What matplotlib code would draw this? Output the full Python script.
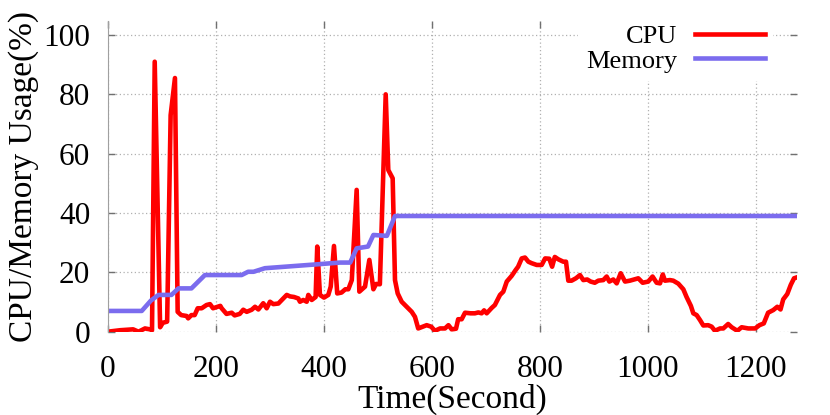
import matplotlib
matplotlib.use("Agg")
import matplotlib.pyplot as plt

# CPU usage samples (time in seconds, usage in %)
cpu_t = [0, 23, 47, 57, 69, 78, 82, 87, 97, 102, 110, 116.5, 124.5, 129.5,
         136, 146, 149, 155, 161, 166.6, 174, 183, 189.4, 195, 208.5, 211, 220,
         229.6, 235, 244.5, 251, 257.4, 266.6, 272.8, 279, 288, 294.4, 300.5,
         306.7, 316, 325, 331.5, 337.6, 345, 353, 356, 362, 368.5, 371.5, 377.8,
         385, 388, 393, 400.5, 408.5, 413, 419, 425, 433, 440, 445.6, 452, 461,
         466, 476.5, 484.5, 492, 497, 504, 514.8, 519.6, 527.7, 532, 537, 544.4,
         553.7, 563, 569, 575, 590.7, 599, 606, 615.4, 624.6, 631, 637, 645, 649,
         655.5, 661.7, 672, 680, 686.4, 692.5, 697, 701.8, 711, 717, 726.5, 732.6,
         739, 748, 755.5, 760, 766.7, 772.8, 779, 785, 794.5, 803.7, 810, 817.8,
         823, 828, 834.5, 843.7, 848.7, 853, 859, 867, 874.6, 880.7, 888, 894.4,
         902, 908.5, 917.8, 924, 929, 936.3, 942.6, 950, 958, 967, 982.6, 990.7,
         1001, 1009, 1016.6, 1022.8, 1028, 1032, 1041, 1047.4, 1056.7, 1066, 1072,
         1080, 1084.5, 1090.7, 1097, 1103, 1112, 1118.5, 1124.6, 1134, 1140, 1149,
         1155.6, 1166, 1174, 1186.3, 1199, 1207, 1215, 1223, 1232.6, 1240, 1246,
         1251, 1258.5, 1265, 1271, 1276]
cpu_v = [0.0, 0.5, 0.8, 0.0, 1.1, 0.8, 0.5, 91.0, 1.5, 3.0, 3.4, 73.0, 85.5, 6.7,
         5.6, 5.3, 4.5, 5.6, 5.6, 7.9, 7.9, 9.0, 9.3, 7.9, 8.7, 7.9, 6.0,
         6.4, 5.5, 6.0, 7.4, 6.7, 7.4, 8.4, 7.5, 9.6, 7.9, 10.1,
         9.3, 9.5, 11.2, 12.4, 11.9, 11.7, 11.2, 10.1, 10.7, 10.1, 12.4, 10.7,
         11.7, 28.7, 12.4, 11.5, 12.4, 15.2, 28.9, 12.9, 13.2, 14.3, 14.3, 17.4, 47.8,
         13.5, 15.2, 24.2, 14.3, 16.1, 16.0, 80.0, 54.5, 51.7, 17.4, 12.9, 10.1,
         8.4, 6.7, 5.0, 1.1, 2.2, 1.7, 0.3, 1.1, 1.1, 2.2, 0.8, 1.0, 4.2,
         4.2, 6.4, 6.2, 6.2, 6.5, 6.2, 7.2, 6.2, 8.0, 9.0, 12.4, 13.5,
         16.9, 18.8, 20.8, 21.9, 24.7, 25.0, 23.6, 23.1, 22.5, 22.5, 24.7, 24.6,
         21.9, 25.2, 24.4, 23.6, 23.6, 17.2, 17.2, 18.0, 19.1, 17.4, 17.6, 16.9,
         16.5, 17.2, 17.4, 18.6, 16.9, 17.6, 16.3, 19.7, 16.9, 17.2, 18.0, 16.5,
         16.9, 18.6, 16.5, 16.3, 19.3, 17.2, 17.4, 17.2, 16.2, 14.3, 11.7,
         8.7, 6.2, 5.6, 3.9, 2.1, 2.2, 1.7, 0.3, 1.1, 1.1, 2.6,
         1.5, 0.3, 1.5, 1.1, 1.1, 2.2, 2.8, 6.4, 7.3, 8.4, 7.5,
         10.9, 12.7, 15.8, 18.0, 18.3]

# memory usage samples
mem_t = [0, 63, 80, 94, 118, 131, 155, 180, 248, 260, 270, 291, 387, 430, 449,
         461, 482, 492, 517, 532, 1276]
mem_v = [7.0, 7.0, 10.5, 12.4, 12.4, 14.6, 14.6, 19.1, 19.1, 20.2, 20.2, 21.4,
         22.7, 23.3, 23.3, 28.1, 28.7, 32.6, 32.3, 39.0, 39.0]

x_ticks = [0, 200, 400, 600, 800, 1000, 1200]
y_ticks = [0, 20, 40, 60, 80, 100]

plt.rcParams['font.family'] = ['Liberation Serif', 'DejaVu Serif']

fig = plt.figure(figsize=(8.3, 4.15), dpi=100)
ax = fig.add_axes([0.1298, 0.2007, 0.8301, 0.7493])

ax.plot(cpu_t, cpu_v, color='#ff0000', lw=3.3, label='CPU')
ax.plot(mem_t, mem_v, color='#7b6cee', lw=3.3, label='Memory')

ax.set_xlim(0, 1276)
ax.set_ylim(0, 104.8)
ax.set_xticks(x_ticks)
ax.set_yticks(y_ticks)
ax.grid(True, color='#b0b0b0', linestyle=(0, (1, 2)), lw=0.9)
ax.set_axisbelow(True)

for s in ['top', 'right', 'bottom']:
    ax.spines[s].set_visible(False)
ax.spines['left'].set_color('#a0a0a0')
ax.spines['left'].set_linewidth(0.8)

ax.tick_params(direction='in', length=5, width=1.0, color='#707070',
               top=True, right=True, labelsize=22.5)
ax.tick_params(axis='x', pad=16.5)
ax.tick_params(axis='y', pad=12.5)

ax.set_xlabel('Time(Second)', fontsize=24, labelpad=0)
ax.set_ylabel('CPU/Memory Usage(%)', fontsize=24, labelpad=3)

leg = ax.legend(loc='upper right', bbox_to_anchor=(0.985, 1.056), fontsize=19,
                markerfirst=False, handlelength=2.65, handletextpad=0.7,
                labelspacing=0.05, frameon=True, fancybox=False,
                borderpad=0.3)
leg.get_frame().set_edgecolor('none')
leg.get_frame().set_facecolor('white')
leg.get_frame().set_alpha(1.0)

fig.savefig('out.png', dpi=100)
